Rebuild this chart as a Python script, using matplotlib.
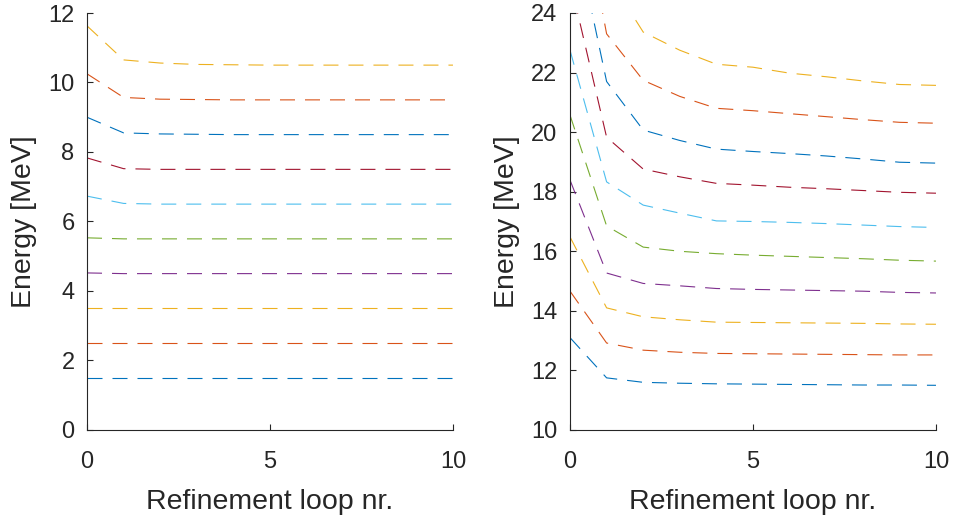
import numpy as np
import matplotlib
matplotlib.use("Agg")
import matplotlib.pyplot as plt

# refinement loop index
loops = list(range(11))

# left panel: lowest ten levels (MeV), bottom to top
left_levels = [
    [1.5] * 11,
    [2.5] * 11,
    [3.5] * 11,
    [4.52, 4.5, 4.5, 4.5, 4.5, 4.5, 4.5, 4.5, 4.5, 4.5, 4.5],
    [5.53, 5.5, 5.5, 5.5, 5.5, 5.5, 5.5, 5.5, 5.5, 5.5, 5.5],
    [6.73, 6.52, 6.5, 6.5, 6.5, 6.5, 6.5, 6.5, 6.5, 6.5, 6.5],
    [7.83, 7.52, 7.5, 7.5, 7.5, 7.5, 7.5, 7.5, 7.5, 7.5, 7.5],
    [9.0, 8.55, 8.52, 8.51, 8.5, 8.5, 8.5, 8.5, 8.5, 8.5, 8.5],
    [10.25, 9.57, 9.52, 9.51, 9.5, 9.5, 9.5, 9.5, 9.5, 9.5, 9.5],
    [11.63, 10.65, 10.56, 10.52, 10.51, 10.5, 10.5, 10.5, 10.5, 10.5, 10.5],
]

# right panel: next ten levels (MeV), bottom to top
right_levels = [
    [13.1, 11.75, 11.6, 11.57, 11.55, 11.54, 11.53, 11.52, 11.51, 11.51, 11.5],
    [14.66, 12.92, 12.68, 12.61, 12.57, 12.56, 12.55, 12.54, 12.53, 12.52, 12.52],
    [16.48, 14.1, 13.8, 13.7, 13.62, 13.61, 13.6, 13.59, 13.58, 13.56, 13.55],
    [18.39, 15.27, 14.92, 14.84, 14.75, 14.72, 14.7, 14.68, 14.66, 14.62, 14.6],
    [20.57, 16.85, 16.14, 16.0, 15.92, 15.87, 15.83, 15.79, 15.75, 15.7, 15.67],
    [22.75, 18.33, 17.55, 17.28, 17.02, 17.0, 16.97, 16.93, 16.88, 16.83, 16.8],
    [25.1, 19.83, 18.76, 18.5, 18.28, 18.22, 18.15, 18.1, 18.04, 17.98, 17.95],
    [27.5, 21.7, 20.07, 19.72, 19.43, 19.35, 19.28, 19.2, 19.1, 18.99, 18.96],
    [29.8, 23.3, 21.74, 21.2, 20.8, 20.72, 20.62, 20.52, 20.42, 20.33, 20.3],
    [31.5, 25.3, 23.36, 22.75, 22.28, 22.18, 21.98, 21.86, 21.72, 21.6, 21.57],
]

colors = ['#0072BD', '#D95319', '#EDB120', '#7E2F8E', '#77AC30',
          '#4DBEEE', '#A2142F', '#0072BD', '#D95319', '#EDB120']

plt.rcParams['font.family'] = ['Liberation Sans', 'DejaVu Sans']
plt.rcParams['lines.scale_dashes'] = False

fig = plt.figure(figsize=(9.54, 5.2), dpi=100)
ax1 = fig.add_axes([0.0912, 0.1731, 0.3836, 0.8019])
ax2 = fig.add_axes([0.5975, 0.1731, 0.3836, 0.8019])

axcol = '#262626'


def style(ax, ylim, yticks):
    ax.set_xlim(0, 10)
    ax.set_ylim(*ylim)
    ax.set_xticks([0, 5, 10])
    ax.set_yticks(yticks)
    for s in ['top', 'right']:
        ax.spines[s].set_visible(False)
    for s in ['left', 'bottom']:
        ax.spines[s].set_color(axcol)
        ax.spines[s].set_linewidth(0.8)
    ax.tick_params(direction='in', length=4, width=0.8, color=axcol,
                   labelsize=17, labelcolor=axcol)
    ax.tick_params(axis='y', pad=9)
    ax.tick_params(axis='x', pad=15)
    ax.set_xlabel('Refinement loop nr.', fontsize=20.5, color=axcol, labelpad=12)
    ax.set_ylabel('Energy [MeV]', fontsize=20.5, color=axcol, labelpad=8)


for vals, c in zip(left_levels, colors):
    ax1.plot(loops, vals, color=c, lw=0.8, dashes=(10.8, 7.2))
for vals, c in zip(right_levels, colors):
    ax2.plot(loops, vals, color=c, lw=0.8, dashes=(10.8, 7.2))

style(ax1, (0, 12), range(0, 13, 2))
style(ax2, (10, 24), range(10, 25, 2))

fig.savefig('out.png', dpi=100)
